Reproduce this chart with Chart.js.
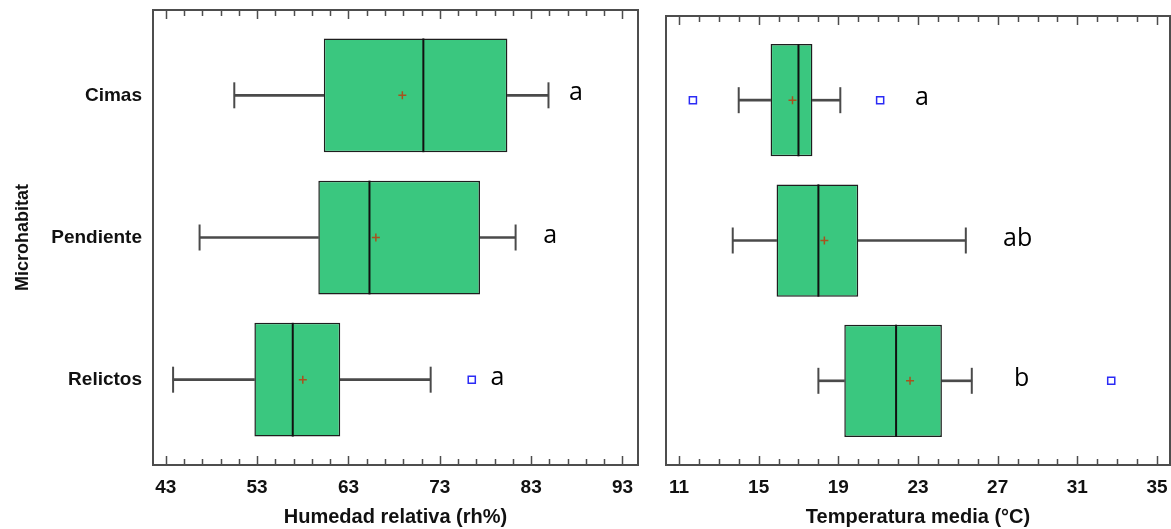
<!DOCTYPE html>
<html>
<head>
<meta charset="utf-8">
<script src="https://cdn.jsdelivr.net/npm/chart.js@4.4.0/dist/chart.umd.min.js"></script>
<style>
  body { margin: 0; background: #fff; overflow: hidden; }
  #izq { position: absolute; left: 0; top: 0; }
  #der { position: absolute; left: 645px; top: 0; }
</style>
</head>
<body>
<canvas id="izq" width="645" height="529"></canvas>
<canvas id="der" width="526" height="529"></canvas>
<script>
// categorias (eje Y)
const categorias = ['Cimas', 'Pendiente', 'Relictos'];

// Humedad relativa (rh%)
const humMin = [50.5, 46.7, 43.8];
const humQ1 = [60.3, 59.7, 52.7];
const humMediana = [71.2, 65.3, 56.9];
const humQ3 = [80.4, 77.4, 62.1];
const humMax = [84.9, 81.3, 72.0];
const humMedia = [68.9, 66.0, 58.0];
const humAtipicos = [[], [], [76.5]];
const humLetras = ['a', 'a', 'a'];
const humPosLetras = [87.9, 85.1, 79.3];
const humTicks = [43, 53, 63, 73, 83, 93];

// Temperatura media (°C)
const tempMin = [14.0, 13.7, 18.0];
const tempQ1 = [15.6, 15.9, 19.3];
const tempMediana = [17.0, 18.0, 21.9];
const tempQ3 = [17.7, 20.0, 24.2];
const tempMax = [19.1, 25.4, 25.7];
const tempMedia = [16.7, 18.3, 22.6];
const tempAtipicos = [[11.7, 21.1], [], [32.7]];
const tempLetras = ['a', 'ab', 'b'];
const tempPosLetras = [23.2, 28.0, 28.2];
const tempTicks = [11, 15, 19, 23, 27, 31, 35];

const verde = '#3ac77f';
const fuenteEje = "'Liberation Sans', Arial, sans-serif";

function mitadCaja(c) {
  const y = c.chart.scales.y;
  return Math.abs(y.getPixelForValue(0.4) - y.getPixelForValue(0));
}

function sinRelleno(s) {
  s.paddingTop = 0; s.paddingBottom = 0; s.paddingLeft = 0; s.paddingRight = 0;
}

function datasetsCaja(min, q1, med, q3, max, media, atipicos) {
  const idx = categorias.map((c, i) => i);
  return [
    {
      type: 'bar', data: idx.map(i => ({ y: i, x: [min[i], q1[i]] })),
      barThickness: 2, backgroundColor: '#4a4a4a', grouped: false, order: 5
    },
    {
      type: 'bar', data: idx.map(i => ({ y: i, x: [q3[i], max[i]] })),
      barThickness: 2, backgroundColor: '#4a4a4a', grouped: false, order: 5
    },
    {
      type: 'bar', data: idx.map(i => ({ y: i, x: [q1[i], q3[i]] })),
      backgroundColor: verde, borderColor: '#1e1e1e', borderWidth: 1.5,
      borderSkipped: false, barPercentage: 0.8, categoryPercentage: 1,
      grouped: false, order: 4
    },
    {
      type: 'scatter', data: idx.map(i => ({ x: med[i], y: i })),
      pointStyle: 'line', pointRotation: 90, pointRadius: mitadCaja, pointHoverRadius: mitadCaja,
      pointBorderColor: '#111', pointBorderWidth: 2, order: 3
    },
    {
      type: 'scatter', data: idx.flatMap(i => [{ x: min[i], y: i }, { x: max[i], y: i }]),
      pointStyle: 'line', pointRotation: 90, pointRadius: 13, pointHoverRadius: 13,
      pointBorderColor: '#4a4a4a', pointBorderWidth: 2, order: 3
    },
    {
      type: 'scatter', data: idx.map(i => ({ x: media[i], y: i })),
      pointStyle: 'cross', pointRadius: 4, pointHoverRadius: 4,
      pointBorderColor: '#a8521e', pointBorderWidth: 1.5, order: 1
    },
    {
      type: 'scatter', data: idx.flatMap(i => atipicos[i].map(v => ({ x: v, y: i }))),
      pointStyle: 'rect', pointRadius: 5, pointHoverRadius: 5,
      pointBorderColor: '#2b2bf5', pointBackgroundColor: '#fff', pointBorderWidth: 1.5, order: 1
    }
  ];
}

// marco con marcas hacia dentro y letras de significancia
const marco = {
  id: 'marco',
  afterDatasetsDraw(chart, args, opts) {
    const { ctx, chartArea: a, scales: { x, y } } = chart;
    ctx.save();
    ctx.strokeStyle = '#4d4d4d';
    ctx.lineWidth = 1.5;
    for (let v = opts.inicio; v <= x.max; v += opts.paso) {
      const px = Math.round(x.getPixelForValue(v)) + 0.5;
      const largo = opts.mayores.includes(v) ? 9 : 6;
      ctx.beginPath();
      ctx.moveTo(px, a.top); ctx.lineTo(px, a.top + largo);
      ctx.moveTo(px, a.bottom); ctx.lineTo(px, a.bottom - largo);
      ctx.stroke();
    }
    ctx.lineWidth = 2;
    ctx.strokeRect(a.left, a.top, a.right - a.left, a.bottom - a.top);

    ctx.fillStyle = '#000';
    ctx.font = "25px 'Open Sans', sans-serif";
    ctx.textAlign = 'center';
    ctx.textBaseline = 'middle';
    opts.letras.forEach((t, i) => {
      ctx.fillText(t, x.getPixelForValue(opts.posiciones[i]), y.getPixelForValue(i) - 2);
    });
    ctx.restore();
  }
};

function crearGrafico(id, cfg) {
  const ejeY = {
    type: 'linear', min: -0.6, max: 2.6, reverse: true, offset: false,
    display: cfg.mostrarY,
    grid: { display: false, drawTicks: false, offset: false }, border: { display: false },
    afterBuildTicks: s => { s.ticks = categorias.map((c, i) => ({ value: i })); },
    ticks: {
      callback: v => categorias[v], color: '#111', padding: 11,
      font: { family: fuenteEje, size: 19, weight: 'bold' }
    },
    title: {
      display: cfg.mostrarY, text: 'Microhabitat', color: '#111', padding: { top: 12, bottom: 0 },
      font: { family: fuenteEje, size: 18, weight: 'bold' }
    },
    afterFit: s => { if (cfg.anchoY) s.width = cfg.anchoY; sinRelleno(s); }
  };
  return new Chart(document.getElementById(id), {
    type: 'bar',
    data: { datasets: datasetsCaja(cfg.min, cfg.q1, cfg.med, cfg.q3, cfg.max, cfg.media, cfg.atipicos) },
    options: {
      indexAxis: 'y',
      responsive: false,
      animation: false,
      layout: { padding: cfg.relleno, autoPadding: false },
      scales: {
        x: {
          type: 'linear', min: cfg.xMin, max: cfg.xMax, offset: false,
          grid: { display: false, drawTicks: false }, border: { display: false },
          afterBuildTicks: s => { s.ticks = cfg.ticks.map(v => ({ value: v })); },
          ticks: {
            autoSkip: false, maxRotation: 0, color: '#111', padding: 11,
            font: { family: fuenteEje, size: 19, weight: 'bold' }
          },
          title: {
            display: true, text: cfg.titulo, color: '#111', padding: { top: 0, bottom: 0 },
            font: { family: fuenteEje, size: 20, weight: 'bold' }
          },
          afterFit: s => { s.height = 64; sinRelleno(s); }
        },
        y: ejeY
      },
      plugins: {
        legend: { display: false },
        tooltip: { enabled: false },
        marco: cfg.marco
      }
    },
    plugins: [marco]
  });
}

crearGrafico('izq', {
  min: humMin, q1: humQ1, med: humMediana, q3: humQ3, max: humMax,
  media: humMedia, atipicos: humAtipicos,
  xMin: 41.6, xMax: 94.7, ticks: humTicks, titulo: 'Humedad relativa (rh%)',
  mostrarY: true, anchoY: 153,
  relleno: { left: 0, right: 7, top: 10, bottom: 0 },
  marco: { inicio: 43, paso: 2, mayores: humTicks, letras: humLetras, posiciones: humPosLetras }
});

crearGrafico('der', {
  min: tempMin, q1: tempQ1, med: tempMediana, q3: tempQ3, max: tempMax,
  media: tempMedia, atipicos: tempAtipicos,
  xMin: 10.35, xMax: 35.65, ticks: tempTicks, titulo: 'Temperatura media (°C)',
  mostrarY: false, anchoY: 0,
  relleno: { left: 21, right: 1, top: 16, bottom: 0 },
  marco: { inicio: 11, paso: 1, mayores: tempTicks, letras: tempLetras, posiciones: tempPosLetras }
});
</script>
</body>
</html>
